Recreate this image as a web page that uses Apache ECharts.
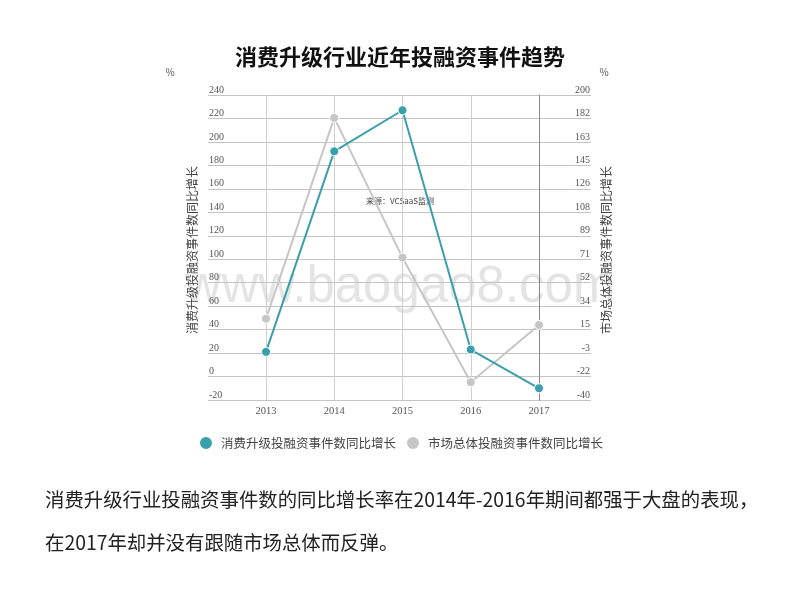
<!DOCTYPE html>
<html>
<head>
<meta charset="utf-8">
<script src="https://cdn.jsdelivr.net/npm/echarts@6/dist/echarts.min.js"></script>
<style>
html,body{margin:0;padding:0;background:#fff;}
#chart{width:800px;height:600px;}
</style>
</head>
<body>
<div id="chart"></div>
<script>
const years = ['2013', '2014', '2015', '2016', '2017'];
const consumerGrowth = [21, 192, 227, 23, -10];
const marketGrowth = [24, 182, 72, -26, 19];
const seriesNames = ['消费升级投融资事件数同比增长', '市场总体投融资事件数同比增长'];
const titleText = '消费升级行业近年投融资事件趋势';
const leftAxisName = '消费升级投融资事件数同比增长';
const rightAxisName = '市场总体投融资事件数同比增长';
const sourceText = '来源：VCSaaS监测';
const watermark = 'www.baogao8.com';
const captionLines = ['消费升级行业投融资事件数的同比增长率在2014年-2016年期间都强于大盘的表现，', '在2017年却并没有跟随市场总体而反弹。'];

const tealColor = '#3a9fac';
const grayColor = '#c6c6c6';
const labelFont = 'Liberation Serif';
const cjk = '"Noto Sans CJK SC", "Noto Sans", sans-serif';

const chart = echarts.init(document.getElementById('chart'));
chart.setOption({
  backgroundColor: '#fff',
  animation: false,
  title: {
    text: titleText,
    left: 'center',
    top: 41,
    textStyle: { fontFamily: cjk, fontSize: 22, fontWeight: 'bold', color: '#111' }
  },
  legend: {
    data: seriesNames,
    top: 430,
    left: 193,
    icon: 'circle',
    itemWidth: 14,
    itemHeight: 14,
    itemGap: 9,
    textStyle: { fontFamily: cjk, fontSize: 12.5, color: '#444', padding: [0, 0, 0, 3] }
  },
  graphic: [
    { type: 'text', z: -10, left: 'center', top: 262,
      style: { text: watermark, fontFamily: 'Liberation Sans, Arial, sans-serif', fontSize: 51, fill: '#e4e4e4' } },
    { type: 'text', x: 170, y: 72, style: { text: '%', fontFamily: cjk, fontSize: 10, fill: '#555', textAlign: 'center', textVerticalAlign: 'middle' } },
    { type: 'text', x: 604, y: 72, style: { text: '%', fontFamily: cjk, fontSize: 10, fill: '#555', textAlign: 'center', textVerticalAlign: 'middle' } },
    { type: 'text', x: 192, y: 250, rotation: Math.PI / 2,
      style: { text: leftAxisName, fontFamily: cjk, fontSize: 12, fill: '#444', textAlign: 'center', textVerticalAlign: 'middle' } },
    { type: 'text', x: 606, y: 250, rotation: Math.PI / 2,
      style: { text: rightAxisName, fontFamily: cjk, fontSize: 12, fill: '#444', textAlign: 'center', textVerticalAlign: 'middle' } },
    { type: 'text', x: 400, y: 201,
      style: { text: sourceText, fontFamily: cjk, fontSize: 8, fill: '#444', textAlign: 'center', textVerticalAlign: 'middle' } },
    { type: 'text', x: 45, y: 500,
      style: { text: captionLines[0], fontFamily: cjk, fontSize: 19.4, fill: '#222', textVerticalAlign: 'middle' } },
    { type: 'text', x: 45, y: 543,
      style: { text: captionLines[1], fontFamily: cjk, fontSize: 19.4, fill: '#222', textVerticalAlign: 'middle' } }
  ],
  grid: [
    { left: 208, right: 209, top: 95, bottom: 200 },
    { left: 266, right: 261, top: 95, bottom: 200 }
  ],
  xAxis: [
    { type: 'value', gridIndex: 0, show: false, min: 0, max: 1 },
    {
      type: 'category', gridIndex: 1, data: years, boundaryGap: false,
      axisLine: { show: false }, axisTick: { show: false },
      axisLabel: { color: '#555', fontFamily: labelFont, fontSize: 10.5, margin: 6 },
      splitLine: { show: true, lineStyle: { color: '#cfcfcf', width: 1 } }
    }
  ],
  yAxis: [
    {
      type: 'value', gridIndex: 0, position: 'left', min: -20, max: 240, interval: 20,
      axisLine: { show: false }, axisTick: { show: false },
      axisLabel: { inside: true, margin: 1, verticalAlign: 'bottom', color: '#555', fontFamily: labelFont, fontSize: 10 },
      splitLine: { show: true, lineStyle: { color: '#c4c4c4', width: 1 } }
    },
    {
      type: 'value', gridIndex: 0, position: 'right', min: -40, max: 200, interval: 240 / 13,
      axisLine: { show: false }, axisTick: { show: false },
      axisLabel: { inside: true, margin: 1, verticalAlign: 'bottom', color: '#555', fontFamily: labelFont, fontSize: 10,
        formatter: v => String(Math.round(v)) },
      splitLine: { show: false }
    },
    {
      type: 'value', gridIndex: 1, position: 'left', min: -20, max: 240, interval: 20,
      axisLine: { show: false }, axisTick: { show: false }, axisLabel: { show: false }, splitLine: { show: false }
    },
    {
      type: 'value', gridIndex: 1, position: 'right', min: -40, max: 200, interval: 240 / 13,
      axisLine: { show: true, lineStyle: { color: '#8a8a8a', width: 1 } },
      axisTick: { show: false }, axisLabel: { show: false }, splitLine: { show: false }
    }
  ],
  series: [
    {
      name: seriesNames[0], type: 'line', xAxisIndex: 1, yAxisIndex: 2, data: consumerGrowth,
      z: 4, symbol: 'circle', symbolSize: 9,
      lineStyle: { color: tealColor, width: 2 },
      itemStyle: { color: tealColor, borderColor: '#fff', borderWidth: 1 }
    },
    {
      name: seriesNames[1], type: 'line', xAxisIndex: 1, yAxisIndex: 3, data: marketGrowth,
      z: 3, symbol: 'circle', symbolSize: 9,
      lineStyle: { color: grayColor, width: 2 },
      itemStyle: { color: grayColor, borderColor: '#fff', borderWidth: 1 }
    }
  ]
});
</script>
</body>
</html>
